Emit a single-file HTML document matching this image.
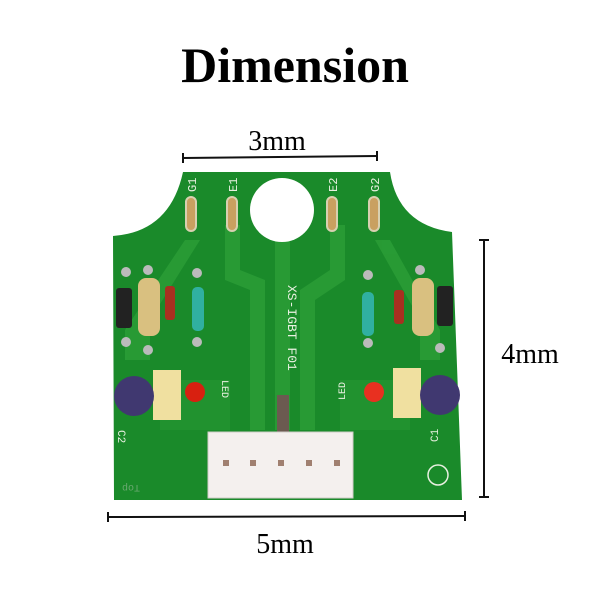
<!DOCTYPE html>
<html><head><style>
body{margin:0;background:#fff;width:600px;height:600px;overflow:hidden}
svg{display:block}
</style></head><body>
<svg width="600" height="600" viewBox="0 0 600 600" xmlns="http://www.w3.org/2000/svg">
<text x="295" y="82" text-anchor="middle" font-family="Liberation Serif,serif" font-weight="bold" font-size="50">Dimension</text>
<text x="277" y="150" text-anchor="middle" font-family="Liberation Serif,serif" font-size="28">3mm</text>
<g stroke="#111" stroke-width="2">
<line x1="183" y1="158" x2="377" y2="156"/><line x1="183" y1="153" x2="183" y2="163"/><line x1="377" y1="151" x2="377" y2="161"/>
<line x1="484" y1="240" x2="484" y2="497"/><line x1="479" y1="240" x2="489" y2="240"/><line x1="479" y1="497" x2="489" y2="497"/>
<line x1="108" y1="517" x2="465" y2="516"/><line x1="108" y1="512" x2="108" y2="522"/><line x1="465" y1="511" x2="465" y2="521"/>
</g>
<text x="530" y="363" text-anchor="middle" font-family="Liberation Serif,serif" font-size="28">4mm</text>
<text x="285" y="553" text-anchor="middle" font-family="Liberation Serif,serif" font-size="28">5mm</text>
<path d="M113 236 Q170 232 183 172 L390 172 Q398 225 452 232 L462 500 L114 500 Z" fill="#1a8a2a"/>
<g fill="#2a9c36" opacity="0.9">
<path d="M125 330 L185 240 L200 240 L150 320 L150 360 L125 360Z"/>
<path d="M225 225 L240 225 L240 270 L265 280 L265 430 L250 430 L250 290 L225 280Z"/>
<path d="M275 240 L290 240 L290 430 L275 430Z"/>
<path d="M330 225 L345 225 L345 280 L315 300 L315 430 L300 430 L300 290 L330 270Z"/>
<path d="M440 330 L390 240 L375 240 L420 320 L420 360 L440 360Z"/>
<path d="M160 380 L230 380 L230 430 L160 430Z" opacity="0.5"/>
<path d="M340 380 L410 380 L410 430 L340 430Z" opacity="0.5"/>
</g>
<circle cx="282" cy="210" r="32" fill="#fff"/>
<g fill="#c9a060" stroke="#d8d0b0" stroke-width="2">
<rect x="186" y="197" width="10" height="34" rx="5"/><rect x="227" y="197" width="10" height="34" rx="5"/>
<rect x="327" y="197" width="10" height="34" rx="5"/><rect x="369" y="197" width="10" height="34" rx="5"/>
</g>
<g font-family="Liberation Mono,monospace" font-size="12" fill="#e8f0e0">
<text transform="translate(196,192) rotate(-90)">G1</text>
<text transform="translate(237,192) rotate(-90)">E1</text>
<text transform="translate(337,192) rotate(-90)">E2</text>
<text transform="translate(379,192) rotate(-90)">G2</text>
<text transform="translate(288,285) rotate(90)" font-size="13">XS-IGBT F01</text>
<text transform="translate(222,380) rotate(90)" font-size="10">LED</text>
<text transform="translate(345,400) rotate(-90)" font-size="10">LED</text>
<text transform="translate(118,430) rotate(90)" font-size="11">C2</text>
<text transform="translate(438,442) rotate(-90)" font-size="11">C1</text>
<text transform="translate(140,485) rotate(180)" font-size="10" fill="#6aa870">Top</text>
</g>
<g fill="#bbb"><circle cx="126" cy="272" r="5"/><circle cx="126" cy="342" r="5"/><circle cx="148" cy="270" r="5"/><circle cx="148" cy="350" r="5"/><circle cx="197" cy="273" r="5"/><circle cx="197" cy="342" r="5"/><circle cx="368" cy="275" r="5"/><circle cx="368" cy="343" r="5"/><circle cx="420" cy="270" r="5"/><circle cx="440" cy="348" r="5"/></g>
<rect x="116" y="288" width="16" height="40" rx="3" fill="#222"/>
<rect x="138" y="278" width="22" height="58" rx="8" fill="#d9c080"/>
<rect x="165" y="286" width="10" height="34" rx="3" fill="#a83020"/>
<rect x="192" y="287" width="12" height="44" rx="5" fill="#30b0a0"/>
<rect x="362" y="292" width="12" height="44" rx="5" fill="#30b0a0"/>
<rect x="394" y="290" width="10" height="34" rx="3" fill="#a83020"/>
<rect x="412" y="278" width="22" height="58" rx="8" fill="#d9c080"/>
<rect x="437" y="286" width="16" height="40" rx="3" fill="#222"/>
<rect x="153" y="370" width="28" height="50" fill="#f0e0a0"/>
<rect x="393" y="368" width="28" height="50" fill="#f0e0a0"/>
<circle cx="195" cy="392" r="10" fill="#d82010"/>
<circle cx="374" cy="392" r="10" fill="#e83020"/>
<circle cx="134" cy="396" r="20" fill="#403870"/>
<circle cx="440" cy="395" r="20" fill="#403870"/>
<rect x="277" y="395" width="12" height="40" fill="#6b5a50"/>
<rect x="208" y="432" width="145" height="66" fill="#f4f0ee" stroke="#d0ccc8"/>
<g fill="#a08070"><rect x="223" y="460" width="6" height="6"/><rect x="250" y="460" width="6" height="6"/><rect x="278" y="460" width="6" height="6"/><rect x="306" y="460" width="6" height="6"/><rect x="334" y="460" width="6" height="6"/></g>
<circle cx="438" cy="475" r="10" fill="none" stroke="#e8f0e0" stroke-width="1.5"/>
</svg>
</body></html>
